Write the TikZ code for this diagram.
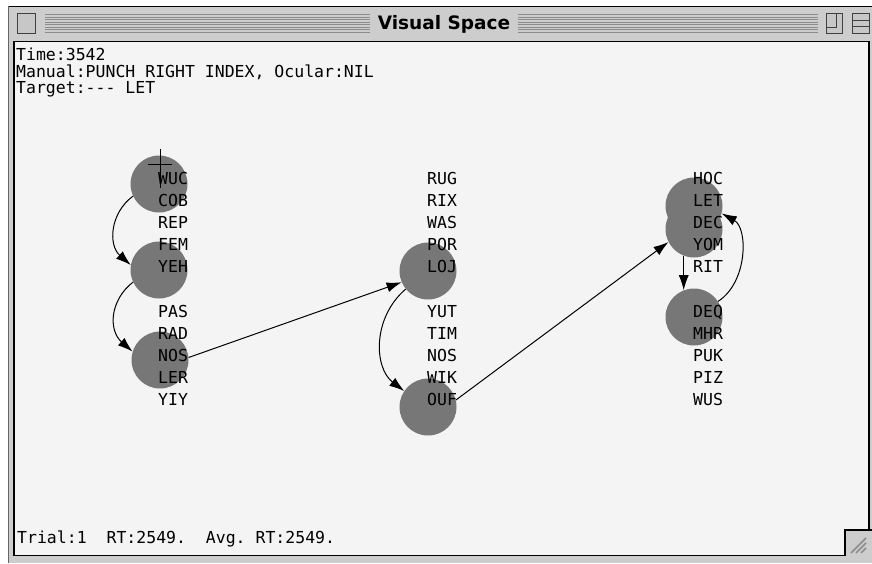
\documentclass[tikz,border=0pt]{standalone}
\usepackage{fontspec}
\setmonofont{DejaVu Sans Mono}
\newfontfamily\titlefont{DejaVu Sans}
\usetikzlibrary{arrows.meta}
\definecolor{frame}{HTML}{CDCDCD}
\definecolor{pane}{HTML}{F4F4F4}
\definecolor{stripe}{HTML}{8C8C8C}
\definecolor{dot}{HTML}{777777}
\tikzset{
  txt/.style={anchor=base west, inner sep=0pt, font=\ttfamily\fontsize{16.5}{16.5}\selectfont},
  lbl/.style={txt},
  spot/.style={circle, fill=dot, draw=none, minimum size=57pt, inner sep=0pt},
  link/.style={line width=1pt, -{Latex[length=15pt,width=10pt]}},
  stripes/.style={stripe, line width=0.9pt},
  wbox/.style={draw=black!75, line width=0.8pt, fill=black!22},
}
\begin{document}
\begin{tikzpicture}[x=1pt,y=-1pt]
\useasboundingbox (0,0) rectangle (872,563);
% window frame and title bar
\fill[white] (0,0) rectangle (872,563);
\fill[frame] (8,6) rectangle (872,563);
\draw[black, line width=1.2pt] (8,6.5) -- (872,6.5);
\draw[black!60, line width=1pt] (8.5,6) -- (8.5,563);
\foreach \yy in {14.5,17,19.5,22,24.5,27,29.5,32}{
  \draw[stripes] (45,\yy) -- (370,\yy);
  \draw[stripes] (518,\yy) -- (818,\yy);
}
\node[anchor=base, inner sep=0pt, font=\titlefont\bfseries\fontsize{18.5}{18.5}\selectfont] (title) at (444,29) {Visual Space};
\draw[wbox] (17,13) rectangle (35,33);
\draw[wbox] (826,13) rectangle (842,33);
\draw[black!75, line width=0.8pt] (826,27) -- (836,27) -- (836,13);
\draw[wbox] (852,13) rectangle (869,33);
\draw[black!75, line width=0.8pt] (852,20) -- (869,20) (852,26) -- (869,26);
% content pane
\fill[pane] (14,41.5) rectangle (869,555.5);
\draw[black, line width=1.5pt] (14,555.5) -- (14,41.5) -- (869,41.5) -- (869,530);
\draw[black, line width=1.5pt] (14,555.5) -- (845,555.5) -- (845,530) -- (872,530);
\fill[frame] (846,531) rectangle (872,556);
\foreach \d in {0,5,10}{
  \draw[black!45, line width=1.6pt] (851+\d,553) -- (866,538+\d);
}
% status texts
\node[txt] (time) at (16,60) {Time:3542};
\node[txt] (manual) at (16,77) {Manual:PUNCH RIGHT INDEX, Ocular:NIL};
\node[txt] (target) at (16,93) {Target:--- LET};
\node[txt] (trial) at (17,543) {Trial:1\ \ RT:2549.\ \ Avg. RT:2549.};
% attended locations
\node[spot] (c1) at (159,184) {};
\node[spot] (c2) at (159,270) {};
\node[spot] (c3) at (160,360) {};
\node[spot] (c4) at (428,271) {};
\node[spot] (c5) at (428,407) {};
\node[spot] (c6) at (694,206) {};
\node[spot] (c7) at (694,229) {};
\node[spot] (c8) at (694,317) {};
% letter strings
\foreach \w [count=\i] in {WUC,COB,REP,FEM,YEH,,PAS,RAD,NOS,LER,YIY}{
  \node[lbl] (l\i) at (158,{184.5+22.1*(\i-1)}) {\w};
}
\foreach \w [count=\i] in {RUG,RIX,WAS,POR,LOJ,,YUT,TIM,NOS,WIK,OUF}{
  \node[lbl] (m\i) at (427,{184.5+22.1*(\i-1)}) {\w};
}
\foreach \w [count=\i] in {HOC,LET,DEC,YOM,RIT,,DEQ,MHR,PUK,PIZ,WUS}{
  \node[lbl] (r\i) at (693,{184.5+22.1*(\i-1)}) {\w};
}
% scan path
\draw[link] (c1.205) .. controls (110,213) and (108,245) .. (c2.170);
\draw[link] (c2.205) .. controls (110,300) and (108,330) .. (c3.163);
\draw[link] (c3.5) -- (c4.203);
\draw[link] (c4.219) .. controls (372,318) and (374,368) .. (c5.146);
\draw[link] (c5.14) -- (c7.207);
\draw[link] (c7.249) -- (c8.111);
\draw[link] (c8.33) .. controls (748,282) and (748,228) .. (c6.345);
% cursor cross
\draw[black, line width=1pt] (160,149) -- (160,188) (148,164) -- (172,164);
\end{tikzpicture}
\end{document}
